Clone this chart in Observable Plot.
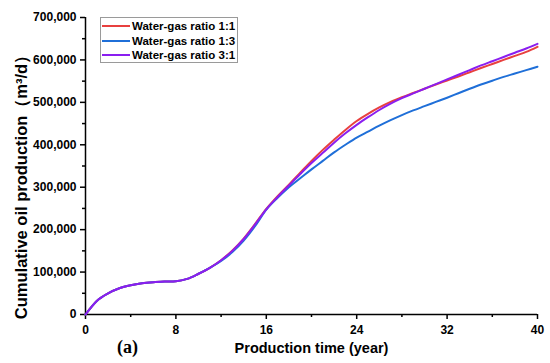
<!DOCTYPE html>
<html><head><meta charset="utf-8">
<script src="https://cdn.jsdelivr.net/npm/d3@7"></script>
<script src="https://cdn.jsdelivr.net/npm/@observablehq/plot@0.6"></script>
<style>
body{margin:0;background:#fff;}
#wrap{position:relative;width:550px;height:363px;}
.legend{position:absolute;left:100px;top:17px;width:138px;height:46px;border:1px solid #9a9a9a;background:#fff;box-sizing:border-box;font:bold 11.5px "Liberation Sans",Arial,sans-serif;color:#000;}
.row{position:absolute;left:0;height:14px;line-height:14px;white-space:nowrap;}
.sw{position:absolute;left:1px;top:6px;width:28px;height:2px;}
.lb{position:absolute;left:31px;top:0;}
</style>
</head><body>
<div id="wrap"></div>
<script>
const years = [0,1,2,3,4,5,6,7,8,9,10,11,12,13,14,15,16,17,18,19,20,21,22,23,24,25,26,27,28,29,30,31,32,33,34,35,36,37,38,39,40];
// cumulative oil production, thousands of m3/d
const ratio11 = [0,32,50,62,69,73.5,76,77.5,78.5,84,96,110,128,151,179,213,249,279,306,334,362,388,412,435,456,473,488,501,512,522,532,542,551.5,561,571,581,590.5,600,609.5,619,631];
const ratio13 = [0,32,50,62,69,73.5,76,77.5,78.5,84,96,110,126,147,174,208,247,275,300,321,342,362,382,400,417,431,445,458,470,481,491,501,511,521.5,532,542,551,560,568,576,584];
const ratio31 = [0,32,50,62,69,73.5,76,77.5,78.5,84,96,110,128,150,178,212,248,277,304,331,357,381,405,427,447,465,482,497,510,521,532,543,554,565,576,587,597,607,617,627,638];
const seriesNames = ["Water-gas ratio 1:1","Water-gas ratio 1:3","Water-gas ratio 3:1"];
const seriesColors = ["#e8403f","#1f6fd8","#8a1ef0"];
const xMajor = [0,8,16,24,32,40];
const xMinor = [4,12,20,28,36];
const yMajor = [0,100000,200000,300000,400000,500000,600000,700000];
const yMinor = [50000,150000,250000,350000,450000,550000,650000];
const xLabel = "Production time (year)";
const yLabel = "Cumulative oil production（m³/d）";
const panelTag = "(a)";

const allSeries = [ratio11, ratio13, ratio31];
const data = [];
allSeries.forEach((vals, i) => vals.forEach((v, j) => data.push({year: years[j], value: v * 1000, series: seriesNames[i]})));

const fmt = d3.format(",");
const sans = "'Liberation Sans', Arial, sans-serif";

const chart = Plot.plot({
  width: 550, height: 363,
  marginLeft: 85, marginRight: 13, marginTop: 17, marginBottom: 49,
  style: {fontFamily: sans, fontWeight: "bold", fontSize: "12px", color: "#000", background: "#fff", overflow: "visible"},
  x: {domain: [0, 40]},
  y: {domain: [0, 700000]},
  color: {domain: seriesNames, range: seriesColors},
  marks: [
    Plot.axisX({ticks: xMinor, tickSize: 3, tickFormat: () => "", label: null, strokeWidth: 1.5}),
    Plot.axisX({ticks: xMajor, tickSize: 5, tickPadding: 6, tickFormat: d => String(d), label: null, strokeWidth: 1.5, fontSize: 12}),
    Plot.axisY({ticks: yMinor, tickSize: 3, tickFormat: () => "", label: null, strokeWidth: 1.5}),
    Plot.axisY({ticks: yMajor, tickSize: 5, tickPadding: 4, tickFormat: fmt, label: null, strokeWidth: 1.5, fontSize: 12}),
    Plot.ruleX([0], {stroke: "#000", strokeWidth: 1.5}),
    Plot.ruleY([0], {stroke: "#000", strokeWidth: 1.5}),
    Plot.line(data, {x: "year", y: "value", z: "series", stroke: "series", strokeWidth: 2, curve: "monotone-x"}),
    Plot.text([xLabel], {frameAnchor: "bottom", dy: 34, fontSize: 14.5, fontWeight: "bold", lineAnchor: "middle"}),
    Plot.text([yLabel], {frameAnchor: "left", dx: -64, dy: 17, rotate: -90, textAnchor: "middle", fontSize: 16.5, fontWeight: "bold", lineAnchor: "middle"}),
    Plot.text([panelTag], {frameAnchor: "bottom-left", dx: 42, dy: 33, textAnchor: "middle", fontSize: 18, fontWeight: "bold", fontFamily: "'Liberation Serif', 'Times New Roman', serif", lineAnchor: "middle"})
  ]
});
const wrap = document.getElementById("wrap");
wrap.appendChild(chart);

const lg = document.createElement("div");
lg.className = "legend";
seriesNames.forEach((name, i) => {
  const r = document.createElement("div");
  r.className = "row";
  r.style.top = (1 + i * 14.5) + "px";
  const sw = document.createElement("div");
  sw.className = "sw";
  sw.style.background = seriesColors[i];
  const lb = document.createElement("div");
  lb.className = "lb";
  lb.textContent = name;
  r.appendChild(sw); r.appendChild(lb);
  lg.appendChild(r);
});
wrap.appendChild(lg);
</script>
</body></html>
